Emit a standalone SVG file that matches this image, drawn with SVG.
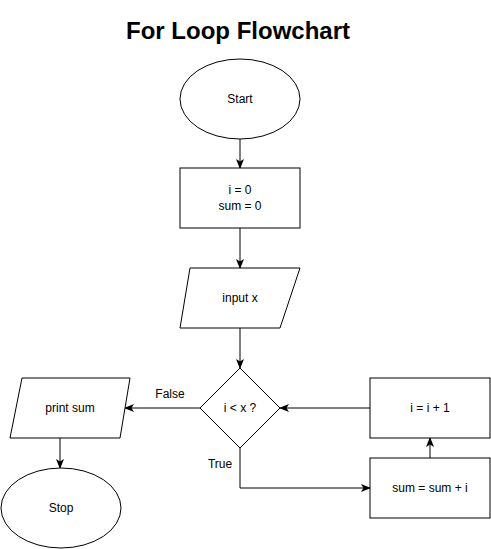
<svg xmlns="http://www.w3.org/2000/svg" width="491" height="549" viewBox="0 0 491 549">
<style>
.s{fill:#fff;stroke:#000;stroke-width:1}
.t{font-family:"Liberation Sans",Arial,sans-serif;font-size:12px;fill:#000;text-anchor:middle;dominant-baseline:central}
.c{fill:none;stroke:#000;stroke-width:1}
.l{font-family:"Liberation Sans",Arial,sans-serif;font-size:12px;fill:#000;text-anchor:middle}
</style>
<defs>
<marker id="a" viewBox="0 0 10 8" refX="9" refY="4" markerWidth="10" markerHeight="8" markerUnits="userSpaceOnUse" orient="auto">
<path d="M0,0 L10,4 L0,8 L2.5,4 z" fill="#000"/>
</marker>
</defs>
<rect width="491" height="549" fill="#fff"/>
<text x="238" y="39" font-family="Liberation Sans,Arial,sans-serif" font-size="24" font-weight="bold" text-anchor="middle">For Loop Flowchart</text>
<g id="connectors">
<path class="c" d="M240,139 V168" marker-end="url(#a)"/>
<path class="c" d="M240,228 V268" marker-end="url(#a)"/>
<path class="c" d="M240,328 V368" marker-end="url(#a)"/>
<path class="c" d="M200,408 H125" marker-end="url(#a)"/>
<path class="c" d="M60,438 V468" marker-end="url(#a)"/>
<path class="c" d="M240,448 V488 H370" marker-end="url(#a)"/>
<path class="c" d="M430,458 V438" marker-end="url(#a)"/>
<path class="c" d="M370,408 H280" marker-end="url(#a)"/>
<text class="l" x="170" y="398">False</text>
<text class="l" x="220" y="468">True</text>
</g>
<g id="start"><ellipse class="s" cx="240" cy="99" rx="60" ry="40"/><text class="t" x="240" y="99">Start</text></g>
<g id="init"><rect class="s" x="180" y="168" width="120" height="60"/><text class="t" x="240" y="190">i = 0</text><text class="t" x="240" y="206">sum = 0</text></g>
<g id="input"><polygon class="s" points="190,268 300,268 280,328 180,328"/><text class="t" x="240" y="298">input x</text></g>
<g id="cond"><polygon class="s" points="240,368 280,408 240,448 200,408"/><text class="t" x="240" y="408">i &lt; x ?</text></g>
<g id="print"><polygon class="s" points="22,378 130,378 120,438 10,438"/><text class="t" x="70" y="408">print sum</text></g>
<g id="stop"><ellipse class="s" cx="61" cy="508" rx="60" ry="40"/><text class="t" x="61" y="508">Stop</text></g>
<g id="incr"><rect class="s" x="370" y="378" width="120" height="60"/><text class="t" x="430" y="408">i = i + 1</text></g>
<g id="sum"><rect class="s" x="370" y="458" width="120" height="60"/><text class="t" x="430" y="488">sum = sum + i</text></g>
</svg>
